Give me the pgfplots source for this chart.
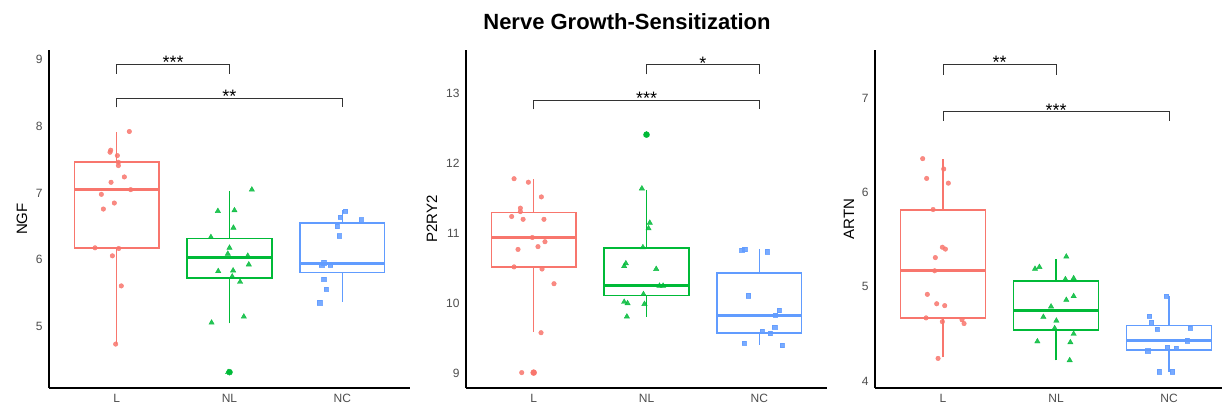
\documentclass[border=0pt]{standalone}
\usepackage{fontspec}
\setmainfont{Liberation Sans}
\usepackage{pgfplots}
\pgfplotsset{compat=1.18}
\definecolor{Lc}{HTML}{F8766D}
\definecolor{NLc}{HTML}{00BA38}
\definecolor{NCc}{HTML}{619CFF}
\definecolor{tickgray}{HTML}{4D4D4D}
\definecolor{brgray}{HTML}{333333}
\tikzset{
  bracket/.style={draw=brgray, line width=0.8pt},
  stars/.style={anchor=base, font=\fontsize{18}{20}\selectfont, yshift=-4.5pt, inner sep=0pt},
}
\pgfplotsset{
  panel/.style={
    scale only axis, height=338pt,
    axis x line=bottom, axis y line=left,
    axis line style={-, line width=1.3pt, black},
    xtick={1,2,3}, xticklabels={L,NL,NC},
    major tick length=0pt,
    tick label style={font=\fontsize{12}{14}\selectfont, text=tickgray},
    yticklabel style={xshift=-3pt},
    xticklabel style={yshift=-3pt},
    /pgf/number format/assume math mode=true,
    ylabel style={font=\fontsize{15}{17}\selectfont, anchor=center},
    clip=false,
  },
  Lpts/.style={color=Lc, only marks, mark=*, mark size=2.3pt, mark options={opacity=0.85}},
  NLpts/.style={color=NLc, only marks, mark=triangle*, mark size=3.1pt, mark options={opacity=0.85}},
  NCpts/.style={color=NCc, only marks, mark=square*, mark size=2.2pt, mark options={opacity=0.85}},
}
% #1 colour, #2 left, #3 centre, #4 right, #5 lower whisker, #6 Q1, #7 median, #8 Q3, #9 upper whisker
\newcommand{\bxp}[9]{%
  \addplot[#1, mark=none, line width=1.6pt] coordinates {(#3,#5) (#3,#6)};
  \addplot[#1, mark=none, line width=1.6pt] coordinates {(#3,#8) (#3,#9)};
  \addplot[#1, mark=none, line width=1.6pt, line cap=rect, line join=miter] coordinates {(#2,#6) (#4,#6) (#4,#8) (#2,#8) (#2,#6)};
  \addplot[#1, mark=none, line width=3pt] coordinates {(#2,#7) (#4,#7)};
}
\begin{document}
\begin{tikzpicture}
\useasboundingbox (0pt,0pt) rectangle (1222pt,410pt);
\node[anchor=base, font=\bfseries\fontsize{22}{24}\selectfont] at (627pt,380.7pt) {Nerve Growth-Sensitization};

% ---------------- Panel 1: NGF
\begin{axis}[panel, at={(49pt,22pt)}, anchor=south west, width=361pt,
  xmin=0.4, xmax=3.6, ymin=4.083, ymax=9.139, ytick={5,6,7,8,9},
  ylabel={NGF}, ylabel style={at={(axis description cs:-0.0748,0.5)}}]
\bxp{Lc}{0.625}{1}{1.375}{4.74}{6.18}{7.05}{7.46}{7.91}
\bxp{NLc}{1.625}{2}{2.375}{5.05}{5.73}{6.04}{6.32}{7.03}
\bxp{NCc}{2.625}{3}{3.375}{5.37}{5.81}{5.95}{6.55}{6.75}
\addplot[NLc, only marks, mark=*, mark size=3pt] coordinates {(2,4.32)};
\addplot[Lpts] coordinates {
(1.112,7.92) (0.947,7.64) (0.941,7.61) (1.006,7.56) (1.015,7.46) (1.015,7.41)
(1.068,7.24) (0.950,7.16) (1.124,7.05) (0.864,6.98) (0.979,6.85) (0.882,6.76)
(0.808,6.18) (1.018,6.17) (0.962,6.06) (1.041,5.61) (0.991,4.74)};
\addplot[NLpts] coordinates {
(2.198,7.05) (1.897,6.73) (2.044,6.74) (2.035,6.48) (1.835,6.34) (2.000,6.18)
(1.985,6.09) (2.162,6.06) (2.171,5.93) (1.900,5.83) (2.032,5.84) (2.024,5.75)
(2.094,5.67) (2.127,5.15) (1.841,5.06) (1.988,4.32)};
\addplot[NCpts] coordinates {
(3.027,6.73) (2.982,6.64) (3.168,6.60) (2.953,6.50) (2.971,6.36) (2.835,5.96)
(2.817,5.92) (2.894,5.92) (2.835,5.71) (2.858,5.56) (2.799,5.36)};
\draw[bracket] (axis cs:1,8.78) |- (axis cs:2,8.925) -- (axis cs:2,8.78);
\node[stars] at (axis cs:1.5,8.925) {***};
\draw[bracket] (axis cs:1,8.28) |- (axis cs:3,8.42) -- (axis cs:3,8.28);
\node[stars] at (axis cs:2,8.42) {**};
\end{axis}

% ---------------- Panel 2: P2RY2
\begin{axis}[panel, at={(466pt,22pt)}, anchor=south west, width=361pt,
  xmin=0.4, xmax=3.6, ymin=8.79, ymax=13.619, ytick={9,10,11,12,13},
  ylabel={P2RY2}, ylabel style={at={(axis description cs:-0.0942,0.5)}}]
\bxp{Lc}{0.625}{1}{1.375}{9.59}{10.52}{10.94}{11.30}{11.77}
\bxp{NLc}{1.625}{2}{2.375}{9.81}{10.11}{10.25}{10.79}{11.62}
\bxp{NCc}{2.625}{3}{3.375}{9.41}{9.58}{9.83}{10.43}{10.77}
\addplot[Lc, only marks, mark=*, mark size=3pt] coordinates {(1,9.01)};
\addplot[NLc, only marks, mark=*, mark size=3pt] coordinates {(2,12.41)};
\addplot[Lpts] coordinates {
(0.826,11.78) (0.953,11.73) (1.068,11.52) (0.882,11.36) (0.882,11.31) (0.805,11.24)
(0.906,11.20) (1.091,11.20) (0.988,10.94) (1.100,10.88) (1.038,10.81) (0.861,10.77)
(0.826,10.52) (1.074,10.49) (1.180,10.28) (1.065,9.58) (0.894,9.01) (1.000,9.01)};
\addplot[NLpts] coordinates {
(1.959,11.64) (2.029,11.15) (2.018,11.07) (1.968,10.80) (1.817,10.57) (1.802,10.53)
(2.086,10.49) (2.147,10.25) (2.115,10.25) (1.973,10.13) (1.802,10.02) (1.832,10.00)
(1.982,9.99) (1.826,9.81) (2.000,12.41)};
\addplot[NCpts] coordinates {
(2.844,10.76) (2.870,10.77) (3.068,10.74) (2.903,10.11) (3.177,9.90) (3.142,9.83)
(3.136,9.66) (3.024,9.60) (3.097,9.57) (2.864,9.43) (3.201,9.40)};
\draw[bracket] (axis cs:2,13.27) |- (axis cs:3,13.41) -- (axis cs:3,13.27);
\node[stars] at (axis cs:2.5,13.41) {*};
\draw[bracket] (axis cs:1,12.77) |- (axis cs:3,12.90) -- (axis cs:3,12.77);
\node[stars] at (axis cs:2,12.90) {***};
\end{axis}

% ---------------- Panel 3: ARTN
\begin{axis}[panel, at={(875pt,22pt)}, anchor=south west, width=347pt,
  xmin=0.398, xmax=3.469, ymin=3.926, ymax=7.513, ytick={4,5,6,7},
  ylabel={ARTN}, ylabel style={at={(axis description cs:-0.0749,0.5)}}]
\bxp{Lc}{0.625}{1}{1.375}{4.25}{4.67}{5.17}{5.815}{6.36}
\bxp{NLc}{1.625}{2}{2.375}{4.22}{4.54}{4.75}{5.06}{5.30}
\bxp{NCc}{2.625}{3}{3.375}{4.10}{4.33}{4.43}{4.59}{4.90}
\addplot[Lpts] coordinates {
(0.820,6.36) (1.006,6.25) (0.855,6.15) (1.047,6.10) (0.912,5.82) (0.994,5.42)
(1.021,5.40) (0.932,5.31) (0.926,5.17) (0.861,4.92) (0.944,4.82) (1.015,4.80)
(0.850,4.67) (0.994,4.63) (1.168,4.65) (1.186,4.61) (0.956,4.24)};
\addplot[NLpts] coordinates {
(2.091,5.32) (1.814,5.19) (1.853,5.21) (2.083,5.08) (2.156,5.09) (2.156,4.90)
(2.091,4.86) (1.956,4.79) (1.888,4.68) (2.003,4.64) (1.988,4.56) (2.156,4.50)
(1.835,4.42) (2.127,4.41) (2.121,4.22)};
\addplot[NCpts] coordinates {
(2.976,4.90) (2.826,4.69) (2.844,4.62) (2.894,4.55) (3.186,4.56) (3.159,4.43)
(2.985,4.36) (3.062,4.35) (2.811,4.32) (2.912,4.10) (3.029,4.10)};
\draw[bracket] (axis cs:1,7.25) |- (axis cs:2,7.36) -- (axis cs:2,7.25);
\node[stars] at (axis cs:1.5,7.36) {**};
\draw[bracket] (axis cs:1,6.76) |- (axis cs:3,6.86) -- (axis cs:3,6.76);
\node[stars] at (axis cs:2,6.86) {***};
\end{axis}
\end{tikzpicture}
\end{document}
